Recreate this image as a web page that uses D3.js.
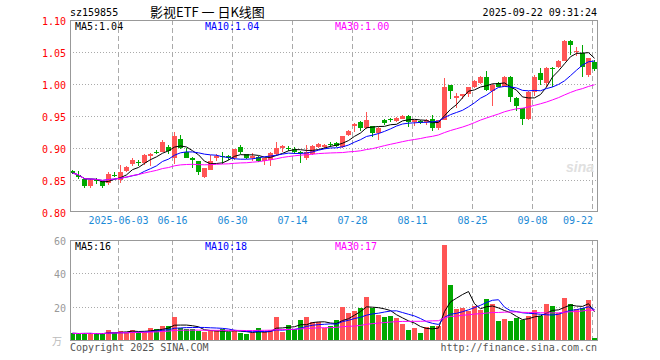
<!DOCTYPE html>
<html><head><meta charset="utf-8">
<script src="https://cdn.jsdelivr.net/npm/d3@7/dist/d3.min.js"></script>
<style>body{margin:0;background:#fff}svg{display:block}</style>
</head><body><svg id="c" width="660" height="360"></svg>
<script>
const dates = [
"2025-05-21","2025-05-22","2025-05-23","2025-05-26","2025-05-27","2025-05-28","2025-05-29","2025-05-30",
"2025-06-03","2025-06-04","2025-06-05","2025-06-06","2025-06-09","2025-06-10","2025-06-11","2025-06-12","2025-06-13",
"2025-06-16","2025-06-17","2025-06-18","2025-06-19","2025-06-20","2025-06-23","2025-06-24","2025-06-25","2025-06-26","2025-06-27","2025-06-30",
"2025-07-01","2025-07-02","2025-07-03","2025-07-04","2025-07-07","2025-07-08","2025-07-09","2025-07-10","2025-07-11",
"2025-07-14","2025-07-15","2025-07-16","2025-07-17","2025-07-18","2025-07-21","2025-07-22","2025-07-23","2025-07-24","2025-07-25",
"2025-07-28","2025-07-29","2025-07-30","2025-07-31",
"2025-08-01","2025-08-04","2025-08-05","2025-08-06","2025-08-07","2025-08-08",
"2025-08-11","2025-08-12","2025-08-13","2025-08-14","2025-08-15","2025-08-18","2025-08-19","2025-08-20","2025-08-21","2025-08-22",
"2025-08-25","2025-08-26","2025-08-27","2025-08-28","2025-08-29",
"2025-09-01","2025-09-02","2025-09-03","2025-09-04","2025-09-05",
"2025-09-08","2025-09-09","2025-09-10","2025-09-11","2025-09-12",
"2025-09-15","2025-09-16","2025-09-17","2025-09-18","2025-09-19","2025-09-22"];

const open = [
.864,.858,.852,.841,.850,.848,.845,.858,.850,.864,.875,.878,.876,.888,.894,.894,.902,.884,.914,.893,
.885,.879,.855,.866,.884,.887,.887,.884,.902,.890,.884,.886,.880,.881,.891,.900,.900,.899,.894,.884,
.891,.901,.901,.907,.908,.901,.920,.934,.941,.931,.934,.924,.944,.946,.942,.946,.950,.940,.942,.940,
.945,.932,.944,.998,.978,.981,.985,.995,1.001,1.0115,.989,1.001,.996,1.011,.978,.962,.945,.988,1.017,1.001,
1.025,1.026,1.036,1.067,1.050,1.049,1.014,1.035];
const high = [
.866,.864,.853,.851,.853,.849,.862,.862,.873,.872,.884,.882,.890,.892,.897,.912,.904,.925,.920,.900,
.886,.880,.869,.889,.890,.894,.889,.899,.904,.891,.892,.887,.885,.893,.910,.905,.903,.901,.895,.905,
.904,.908,.907,.910,.909,.919,.928,.939,.942,.957,.935,.933,.945,.947,.948,.951,.951,.944,.943,.946,
.952,.944,1.009,.999,.986,.985,.996,1.006,1.013,1.021,1.000,1.003,1.012,1.013,.979,.963,.989,1.014,1.0245,1.026,
1.026,1.037,1.068,1.068,1.058,1.061,1.041,1.038];
const low = [
.860,.852,.837,.838,.844,.838,.842,.855,.845,.863,.872,.872,.874,.872,.890,.893,.891,.875,.899,.884,
.869,.858,.853,.865,.880,.875,.881,.882,.890,.883,.879,.878,.874,.872,.888,.894,.895,.891,.877,.882,
.889,.900,.898,.901,.902,.900,.918,.925,.926,.930,.917,.912,.936,.941,.940,.945,.933,.935,.937,.936,
.927,.928,.943,.976,.963,.976,.979,.994,1.000,.989,.966,.995,.995,.972,.958,.936,.944,.981,.998,.996,
.996,1.025,1.036,1.045,1.043,1.011,1.011,1.021];
const close = [
.861,.855,.840,.850,.849,.841,.859,.857,.862,.871,.882,.876,.889,.891,.893,.910,.895,.918,.900,.885,
.881,.863,.868,.880,.887,.886,.884,.898,.893,.885,.887,.879,.884,.892,.900,.903,.899,.893,.892,.894,
.903,.906,.905,.905,.903,.918,.927,.938,.931,.944,.923,.932,.939,.944,.947,.950,.940,.943,.939,.944,
.931,.943,.995,.989,.981,.984,.995,1.005,1.0115,.991,.999,.996,1.011,.980,.966,.946,.988,1.0115,1.006,1.025,
1.024,1.036,1.067,1.061,1.051,1.026,1.040,1.023];
const volume = [
4.0,3.8,4.0,4.0,3.4,3.8,6.0,4.5,5.5,4.5,6.2,4.8,5.0,7.0,6.6,8.6,8.6,13.6,7.4,6.6,
6.6,5.5,4.6,5.2,5.2,6.6,4.6,6.2,4.0,3.6,4.0,7.0,5.0,6.0,13.6,4.6,9.0,6.6,12.0,13.6,
11.0,11.0,7.0,8.4,12.0,20.0,16.4,17.6,19.4,26.0,19.0,15.0,14.0,14.4,13.4,9.6,6.0,7.4,4.0,7.6,
8.4,8.4,57.0,33.0,18.6,19.4,17.4,20.4,18.0,24.6,21.6,11.6,12.6,11.6,13.4,12.0,14.4,18.0,14.4,21.6,
20.4,16.0,25.4,21.6,18.4,19.4,24.0,1.2];

const tickDates = ["2025-06-03","2025-06-16","2025-06-30","2025-07-14","2025-07-28","2025-08-11","2025-08-25","2025-09-08","2025-09-22"];
const tickLabels = ["2025-06-03","06-16","06-30","07-14","07-28","08-11","08-25","09-08","09-22"];
const priceTicks = [0.80,0.85,0.90,0.95,1.00,1.05,1.10];
const volTicks = [20,40,60];
const maPeriods = [5,10,30];
const maColors = ["#000000","#0000ff","#ff00ff"];

const RED = "#ff5555", GREEN = "#00a800", MONO = "'DejaVu Sans Mono', monospace";
const svg = d3.select("#c");
const L = 70, R = 597;
const x = d3.scaleBand().domain(dates).range([L, L + 6*dates.length]).padding(0);
const cx = d => x(d) + 2.5;
const y = d3.scaleLinear().domain([0.80,1.10]).range([212,20]);
const yv = d3.scaleLinear().domain([0,60]).range([340,240]);

function ma(arr, n){ return arr.map((v,i)=>{ const s = arr.slice(Math.max(0,i-n+1), i+1); return d3.mean(s); }); }

function panel(top, bottom){
  const g = svg.append("g");
  // vertical dashed grid
  g.selectAll("line.v").data(tickDates).join("line")
    .attr("x1", d=>x(d)+0.5).attr("x2", d=>x(d)+0.5).attr("y1", top).attr("y2", bottom)
    .attr("stroke","#aaaaaa").attr("stroke-dasharray","5,3");
  return g;
}

// ---- main panel
const gm = panel(20, 212);
gm.selectAll("line.h").data(priceTicks.slice(1,-1)).join("line")
  .attr("x1", L).attr("x2", R).attr("y1", d=>Math.round(y(d))+0.5).attr("y2", d=>Math.round(y(d))+0.5)
  .attr("stroke","#aaaaaa").attr("stroke-dasharray","1,2");

const idx = d3.range(dates.length);
const cg = svg.append("g").attr("shape-rendering","crispEdges");
cg.selectAll("rect.w").data(idx).join("rect")
  .attr("x", i=>x(dates[i])+2).attr("width",1)
  .attr("y", i=>y(high[i])).attr("height", i=>Math.max(1, y(low[i])-y(high[i])))
  .attr("fill", i=> close[i]>=open[i]?RED:GREEN);
cg.selectAll("rect.b").data(idx).join("rect")
  .attr("x", i=>x(dates[i])).attr("width",5)
  .attr("y", i=>y(Math.max(open[i],close[i])))
  .attr("height", i=>Math.max(1, Math.abs(y(open[i])-y(close[i]))))
  .attr("fill", i=> close[i]>=open[i]?RED:GREEN);

const priceMA = maPeriods.map(n=>ma(close,n));
priceMA.forEach((m,k)=>{
  svg.append("path").attr("d", d3.line().x((v,i)=>cx(dates[i])).y(v=>y(v))(m))
    .attr("fill","none").attr("stroke",maColors[k]).attr("stroke-width",1);
});

svg.append("rect").attr("x",L+0.5).attr("y",20.5).attr("width",R-L).attr("height",191)
  .attr("fill","none").attr("stroke","#999");

// price labels
svg.append("g").selectAll("text").data(priceTicks).join("text")
  .attr("x",66).attr("y",d=>y(d)+5).attr("text-anchor","end")
  .attr("font-family",MONO).attr("font-size",10).attr("fill","#ff0000")
  .text(d=>d.toFixed(2));

// date labels
svg.append("g").selectAll("text").data(tickDates).join("text")
  .attr("x",(d,i)=> i===tickDates.length-1 ? 593 : x(d)+0.5)
  .attr("y",224).attr("text-anchor",(d,i)=> i===tickDates.length-1 ? "end":"middle")
  .attr("font-family",MONO).attr("font-size",10).attr("fill","#1c8ad6")
  .text((d,i)=>tickLabels[i]);

// MA legends main
const last = dates.length-1;
maPeriods.forEach((n,k)=>{
  svg.append("text").attr("x",75+130*k).attr("y",30).attr("font-family",MONO).attr("font-size",10)
    .attr("fill",maColors[k]).text("MA"+n+":"+priceMA[k][last].toFixed(2));
});

// title
svg.append("text").attr("x",70).attr("y",16).attr("font-family",MONO).attr("font-size",10).attr("fill","#000").text("sz159855");
svg.append("text").attr("x",150).attr("y",17).attr("font-family","'Noto Sans CJK SC'").attr("font-size",13).attr("fill","#000").text("影视ETF 一 日K线图");
svg.append("text").attr("x",597).attr("y",16).attr("text-anchor","end").attr("font-family",MONO).attr("font-size",10).attr("fill","#000").text("2025-09-22 09:31:24");

// watermark
svg.append("text").attr("x",594).attr("y",172).attr("text-anchor","end").attr("font-family","Arial, 'Liberation Sans'").attr("font-style","italic").attr("font-weight","bold")
  .attr("font-size",14).attr("fill","#e0e0e0").text("sina");

// ---- volume panel
const gv = panel(240, 340);
gv.selectAll("line.h").data(volTicks.slice(0,-1)).join("line")
  .attr("x1", L).attr("x2", R).attr("y1", d=>Math.round(yv(d))+0.5).attr("y2", d=>Math.round(yv(d))+0.5)
  .attr("stroke","#aaaaaa").attr("stroke-dasharray","1,2");
svg.append("g").attr("shape-rendering","crispEdges").selectAll("rect").data(idx).join("rect")
  .attr("x", i=>x(dates[i])).attr("width",5)
  .attr("y", i=>yv(volume[i])).attr("height", i=>yv(0)-yv(volume[i]))
  .attr("fill", i=> close[i]>=open[i]?RED:GREEN);
const volMA = maPeriods.map(n=>ma(volume,n));
volMA.forEach((m,k)=>{
  svg.append("path").attr("d", d3.line().x((v,i)=>cx(dates[i])).y(v=>yv(v))(m))
    .attr("fill","none").attr("stroke",maColors[k]).attr("stroke-width",1);
});
svg.append("rect").attr("x",L+0.5).attr("y",240.5).attr("width",R-L).attr("height",100)
  .attr("fill","none").attr("stroke","#999");
svg.append("g").selectAll("text").data(volTicks).join("text")
  .attr("x",66).attr("y",d=>yv(d)+5).attr("text-anchor","end")
  .attr("font-family",MONO).attr("font-size",10).attr("fill","#999")
  .text(d=>d);
svg.append("text").attr("x",62).attr("y",345).attr("text-anchor","end").attr("font-family","'Noto Sans CJK SC'").attr("font-size",10).attr("fill","#bbb").text("万");
maPeriods.forEach((n,k)=>{
  svg.append("text").attr("x",75+130*k).attr("y",250).attr("font-family",MONO).attr("font-size",10)
    .attr("fill",maColors[k]).text("MA"+n+":"+Math.floor(volMA[k][last]));
});
svg.append("text").attr("x",70).attr("y",351).attr("font-family",MONO).attr("font-size",10).attr("fill","#555").text("Copyright 2025 SINA.COM");
svg.append("text").attr("x",597).attr("y",351).attr("text-anchor","end").attr("font-family",MONO).attr("font-size",10).attr("fill","#555").text("http://finance.sina.com.cn");
</script></body></html>
